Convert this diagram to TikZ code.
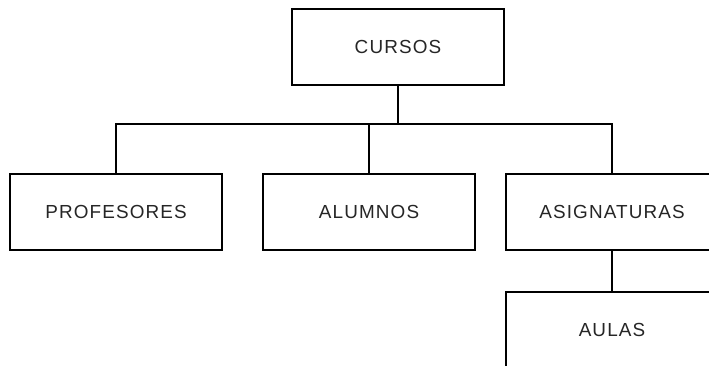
\documentclass[tikz,border=0pt]{standalone}
\usepackage{fontspec}
\setmainfont{Liberation Sans}[LetterSpace=6]
\begin{document}
\begin{tikzpicture}[x=1pt,y=-1pt,
  box/.style={draw, line width=2pt, rectangle, minimum width=212pt, minimum height=76pt, inner sep=0pt, font=\fontsize{18.9}{22}\selectfont, text=black!85},
  conn/.style={line width=2pt}]
\clip (0,0) rectangle (709,366);
\fill[white] (0,0) rectangle (709,366);
\node[box] (cursos) at (398,47) {CURSOS};
\node[box] (prof) at (116,212) {PROFESORES};
\node[box] (alum) at (369,212) {ALUMNOS};
\node[box] (asig) at (612,212) {ASIGNATURAS};
\node[box] (aulas) at (612,330) {AULAS};
\coordinate (bj) at (398,124);
\draw[conn] (cursos.south) -- (bj);
\draw[conn] (prof.north) |- (bj) -| (asig.north);
\draw[conn] (alum.north) -- (alum.north |- bj);
\draw[conn] (asig.south) -- (aulas.north);
\end{tikzpicture}
\end{document}
